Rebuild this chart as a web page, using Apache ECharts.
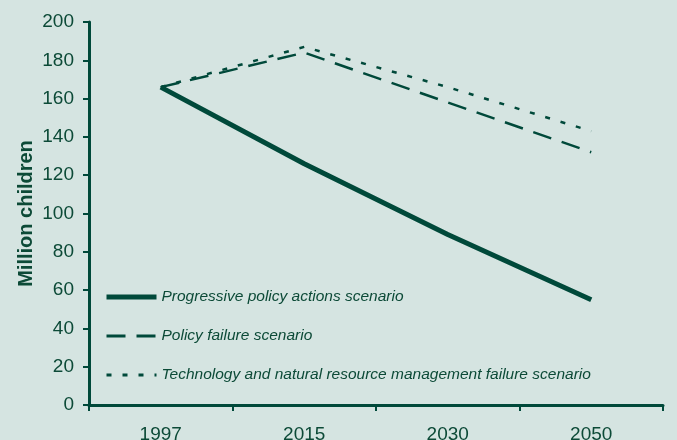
<!DOCTYPE html>
<html>
<head>
<meta charset="utf-8">
<script src="https://cdn.jsdelivr.net/npm/echarts@6/dist/echarts.min.js"></script>
<style>
  html, body { margin: 0; padding: 0; background: #d5e4e1; }
  #chart { width: 677px; height: 440px; }
</style>
</head>
<body>
<div id="chart"></div>
<script>
// years on the x axis
const years = ['1997', '2015', '2030', '2050']
// million malnourished children per scenario
const progressive = [166, 126, 89, 55]
const policyFailure = [166, 184, 158, 132]
const techFailure = [166, 187, 166, 143]

const green = '#00493a'
const textColor = '#0c4a37'

const chart = echarts.init(document.getElementById('chart'))

chart.setOption({
  backgroundColor: '#d5e4e1',
  textStyle: { fontFamily: 'Liberation Sans, Arial, sans-serif' },
  grid: { left: 89, right: 14, top: 22, bottom: 35, outerBoundsMode: 'none' },
  legend: {
    orient: 'vertical',
    left: 104,
    top: 289,
    padding: 0,
    itemWidth: 50,
    itemHeight: 12,
    itemGap: 23,
    itemStyle: { opacity: 0 },
    textStyle: { color: textColor, fontStyle: 'italic', fontSize: 15.5 },
    data: [
      { name: 'Progressive policy actions scenario', lineStyle: { width: 5 } },
      { name: 'Policy failure scenario', lineStyle: { width: 3 } },
      { name: 'Technology and natural resource management failure scenario', lineStyle: { width: 3 } }
    ]
  },
  xAxis: {
    type: 'category',
    data: years,
    boundaryGap: true,
    axisLine: { lineStyle: { color: green, width: 3 } },
    axisTick: { show: true, length: 6, lineStyle: { color: green, width: 2 } },
    axisLabel: { color: textColor, fontSize: 19, margin: 20 }
  },
  yAxis: {
    type: 'value',
    min: 0,
    max: 200,
    interval: 20,
    name: 'Million children',
    nameLocation: 'middle',
    nameGap: 53,
    nameMoveOverlap: false,
    nameTextStyle: { color: textColor, fontWeight: 'bold', fontSize: 20 },
    axisLine: { show: true, lineStyle: { color: green, width: 3 } },
    axisTick: { show: true, length: 6, lineStyle: { color: green, width: 2 } },
    axisLabel: { color: textColor, fontSize: 19, margin: 15 },
    splitLine: { show: false }
  },
  series: [
    {
      name: 'Progressive policy actions scenario',
      type: 'line',
      data: progressive,
      symbol: 'none',
      color: green,
      lineStyle: { color: green, width: 5 }
    },
    {
      name: 'Policy failure scenario',
      type: 'line',
      data: policyFailure,
      symbol: 'none',
      color: green,
      lineStyle: { color: green, width: 2.5, type: [19, 11] }
    },
    {
      name: 'Technology and natural resource management failure scenario',
      type: 'line',
      data: techFailure,
      symbol: 'none',
      color: green,
      lineStyle: { color: green, width: 2.5, type: [5, 11] }
    }
  ]
})
</script>
</body>
</html>
